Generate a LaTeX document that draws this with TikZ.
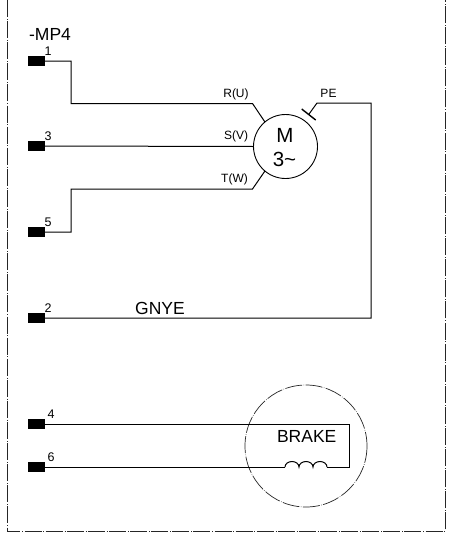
\documentclass[tikz,border=0pt]{standalone}
\usepackage{fontspec}
\setmainfont{Liberation Sans}
\newcommand{\fsz}[1]{\fontsize{#1}{#1}\selectfont}
\tikzset{
  term/.style={draw=none,fill=black,minimum width=17pt,minimum height=10pt,inner sep=0pt,outer sep=0pt},
  wire/.style={line width=1pt,black},
  frameline/.style={line width=0.9pt,black!85,dash pattern=on 17pt off 1.8pt on 0.5pt off 1.8pt},
  brakeline/.style={line width=0.7pt,black!85,dash pattern=on 17pt off 1.5pt on 0.5pt off 1.5pt},
  lab/.style={inner sep=0pt,anchor=base},
  small/.style={lab,font=\fsz{12}},
  num/.style={lab,font=\fsz{12.5}},
  big/.style={lab,font=\fsz{17.5}},
}
\begin{document}
\begin{tikzpicture}[x=1pt,y=-1pt]
\useasboundingbox (0,0) rectangle (450,533);
\fill[white] (0,0) rectangle (450,533);
% frame
\coordinate (fa) at (7,0);
\coordinate (fb) at (7,531);
\coordinate (fc) at (445,531);
\coordinate (fd) at (445,0);
\draw[frameline] (fa) -- (fb) -- (fc) -- (fd);
% terminals
\node[term] (t1) at (36.5,61) {};
\node[term] (t3) at (36.5,146) {};
\node[term] (t5) at (36.5,232) {};
\node[term] (t2) at (36.5,318) {};
\node[term] (t4) at (36.5,424) {};
\node[term] (t6) at (36.5,467) {};
% motor
\node[circle,draw,line width=0.9pt,minimum size=64pt,inner sep=0pt,outer sep=0pt] (m) at (285.5,146.5) {};
\node[lab,font=\fsz{20.5}] (mm) at (285,142) {M};
\node[lab,font=\fsz{20.5}] (m3) at (284.5,166) {3\textasciitilde};
% motor wires
\coordinate (ru) at (252.5,103.5);
\coordinate (tw) at (252.5,189);
\coordinate (pe) at (317,103);
\coordinate (pec) at (371,103);
\coordinate (pa) at (301.7,109);
\coordinate (pb) at (315.7,120);
\coordinate (pm) at (308.7,114.5);
\draw[wire] (t1.east) -- (71,61) -- (71,103.5) -- (ru) -- (m.130);
\draw[wire] (t3.east) -- (m.west);
\draw[wire] (t5.east) -- (71,232) -- (71,189) -- (tw) -- (m.230);
\draw[line width=1.4pt] (pa) -- (pb);
\draw[wire] (pm) -- (pe) -- (pec) -- (371,318) -- (t2.east);
% motor labels
\node[small] (lr) at (236,97) {R(U)};
\node[small] (ls) at (236,139) {S(V)};
\node[small] (lw) at (234.5,182) {T(W)};
\node[small] (lp) at (328.5,97) {PE};
\node[big] (lg) at (160,314) {GNYE};
\node[big] at (50,40) {-MP4};
% numbers
\node[num] at (48,55) {1};
\node[num] at (48,140) {3};
\node[num] at (48,226) {5};
\node[num] at (48,312) {2};
\node[num] at (51,418) {4};
\node[num] at (51,461) {6};
% brake
\node[circle,draw=none,minimum size=122pt,inner sep=0pt,outer sep=0pt] (b) at (306,446) {};
\draw[brakeline] (b.center) circle[radius=61];
\coordinate (c1) at (285,467);
\coordinate (c2) at (327,467);
\draw[wire] (t4.east) -- (349,424) -- (349,467) -- (c2);
\draw[wire] (t6.east) -- (c1);
\draw[wire] (c1) arc[start angle=180,end angle=360,x radius=7,y radius=5.5]
  arc[start angle=180,end angle=360,x radius=7,y radius=5.5]
  arc[start angle=180,end angle=360,x radius=7,y radius=5.5];
\node[lab,font=\fsz{17.5}] (bl) at (306.7,442) {BRAKE};
\end{tikzpicture}
\end{document}
